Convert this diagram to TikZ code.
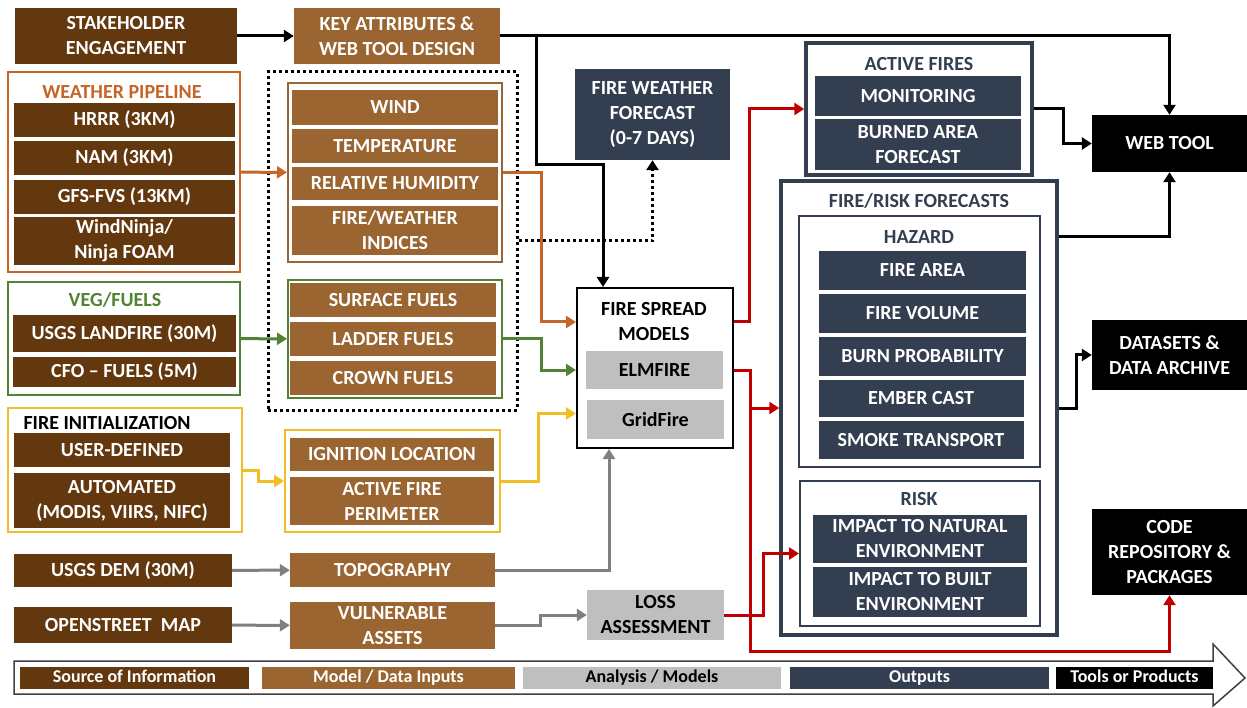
\documentclass[tikz,border=0pt]{standalone}
\usepackage{fontspec}
\setmainfont{Carlito}
\usetikzlibrary{arrows.meta}

\definecolor{srcbrown}{RGB}{99,56,14}
\definecolor{inbrown}{RGB}{154,101,48}
\definecolor{anagray}{RGB}{191,191,191}
\definecolor{outnavy}{RGB}{51,63,80}
\definecolor{wxorange}{RGB}{197,101,40}
\definecolor{veggreen}{RGB}{84,130,53}
\definecolor{ignyellow}{RGB}{242,190,40}
\definecolor{riskred}{RGB}{192,0,0}
\definecolor{topogray}{RGB}{128,128,128}
\definecolor{lgdline}{RGB}{64,64,64}

\tikzset{
  sz/.style 2 args={minimum width=#1,minimum height=#2},
  box/.style={inner sep=0pt,align=center,font=\fontsize{20}{25}\selectfont\bfseries},
  src/.style={box,fill=srcbrown,text=white},
  inp/.style={box,fill=inbrown,text=white},
  ana/.style={box,fill=anagray,text=black},
  outp/.style={box,fill=outnavy,text=white},
  tool/.style={box,fill=black,text=white},
  frame/.style={inner sep=0pt,draw,line width=2pt},
  lgd/.style={inner sep=0pt,minimum height=22,text height=13pt,text depth=4pt,
    font=\fontsize{18}{20}\selectfont\bfseries},
  conn/.style={line width=3pt,-{Triangle[length=10pt,width=12pt]}},
}

\begin{document}
\begin{tikzpicture}[x=1pt,y=-1pt]

      \fill[white] (0,0) rectangle (1247,708);
      \useasboundingbox (0,0) rectangle (1247,708);

      % group frames
      \node[frame,draw=wxorange,sz={232}{200}] (wp) at (124,172) {};
      \node[frame,draw=veggreen,sz={232}{113}] (vf) at (124,338.5) {};
      \node[frame,draw=ignyellow,sz={234}{124}] (fi) at (125,470) {};
      \node[frame,draw=black,line width=3pt,dash pattern=on 3pt off 3pt,sz={249}{338}] (db) at (392.5,241) {};
      \node[frame,draw=inbrown,sz={214}{179}] (win) at (395,172.5) {};
      \node[frame,draw=veggreen,sz={214}{118}] (fu) at (395,339) {};
      \node[frame,draw=ignyellow,sz={215}{102}] (ig) at (392.5,481) {};
      \node[frame,draw=black,sz={156}{160}] (fsm) at (655,368) {};
      \node[frame,draw=outnavy,line width=3.5pt,sz={226}{132}] (af) at (919,109) {};
      \node[frame,draw=outnavy,line width=3.5pt,sz={276}{454}] (frf) at (919,408) {};
      \node[frame,draw=outnavy,sz={241}{251}] (hz) at (919.5,341.5) {};
      \node[frame,draw=outnavy,sz={240}{145}] (rk) at (920,553.5) {};

      % titles
      \begin{scope}[every node/.style={box}]
        \node[text=wxorange] (wpt) at (122,92) {WEATHER PIPELINE};
        \node[text=veggreen] (vft) at (115,300) {VEG/FUELS};
        \node (fit) at (107,423) {FIRE INITIALIZATION};
        \node (fsmt) at (654,322) {FIRE SPREAD\\MODELS};
        \node[text=outnavy] (aft) at (919,64) {ACTIVE FIRES};
        \node[text=outnavy] (frft) at (919,201) {FIRE/RISK FORECASTS};
        \node[text=outnavy] (hzt) at (919,237) {HAZARD};
        \node[text=outnavy] (rkt) at (919,499) {RISK};
      \end{scope}

      % source of information
      \node[src,sz={222}{56}] (se) at (126,36) {STAKEHOLDER\\ENGAGEMENT};
      \node[src,sz={221}{34}] (hrrr) at (124.5,120) {HRRR (3KM)};
      \node[src,sz={221}{34}] (nam) at (124.5,158) {NAM (3KM)};
      \node[src,sz={221}{34}] (gfs) at (124.5,197) {GFS-FVS (13KM)};
      \node[src,sz={221}{48}] (wn) at (124.5,241) {WindNinja/\\Ninja FOAM};
      \node[src,sz={223}{37}] (lf) at (124.5,333.5) {USGS LANDFIRE (30M)};
      \node[src,sz={223}{30}] (cfo) at (124.5,372) {CFO -- FUELS (5M)};
      \node[src,sz={216}{34}] (ud) at (122,450) {USER-DEFINED};
      \node[src,sz={216}{55}] (au) at (122,500.5) {AUTOMATED\\(MODIS, VIIRS, NIFC)};
      \node[src,sz={218}{33}] (dem) at (123,570.5) {USGS DEM (30M)};
      \node[src,sz={218}{36}] (osm) at (123,625) {OPENSTREET~~MAP};

      % model / data inputs
      \node[inp,sz={206}{56}] (ka) at (397,36) {KEY ATTRIBUTES \&\\WEB TOOL DESIGN};
      \node[inp,sz={206}{35}] (wind) at (395,107.5) {WIND};
      \node[inp,sz={206}{34}] (temp) at (395,146) {TEMPERATURE};
      \node[inp,sz={206}{33}] (rh) at (395,183.5) {RELATIVE HUMIDITY};
      \node[inp,sz={206}{49}] (fwi) at (395,230.5) {FIRE/WEATHER\\INDICES};
      \node[inp,sz={206}{34}] (sf) at (393,300) {SURFACE FUELS};
      \node[inp,sz={206}{34}] (lad) at (393,339) {LADDER FUELS};
      \node[inp,sz={206}{34}] (cro) at (393,378) {CROWN FUELS};
      \node[inp,sz={204}{33}] (il) at (392,454.5) {IGNITION LOCATION};
      \node[inp,sz={204}{48}] (afp) at (392,501) {ACTIVE FIRE\\PERIMETER};
      \node[inp,sz={205}{34}] (topo) at (392.5,570) {TOPOGRAPHY};
      \node[inp,sz={205}{47}] (va) at (392.5,625.5) {VULNERABLE\\ASSETS};

      % analysis / models
      \node[ana,sz={137}{38}] (elm) at (654.5,370) {ELMFIRE};
      \node[ana,sz={137}{39}] (grid) at (655.5,419.5) {GridFire};
      \node[ana,sz={137}{50}] (loss) at (655.5,615) {LOSS\\ASSESSMENT};

      % outputs
      \node[outp,sz={155}{91}] (fwf) at (652.5,114.5) {FIRE WEATHER\\FORECAST\\(0-7 DAYS)};
      \node[outp,sz={206}{40}] (mon) at (918,96) {MONITORING};
      \node[outp,sz={206}{51}] (baf) at (918,144.5) {BURNED AREA\\FORECAST};
      \node[outp,sz={207}{39}] (fa) at (922.5,270.5) {FIRE AREA};
      \node[outp,sz={207}{39}] (fv) at (922.5,313.5) {FIRE VOLUME};
      \node[outp,sz={207}{39}] (bp) at (922.5,356.5) {BURN PROBABILITY};
      \node[outp,sz={205}{37}] (ec) at (921,398.5) {EMBER CAST};
      \node[outp,sz={205}{38}] (st) at (921,440) {SMOKE TRANSPORT};
      \node[outp,sz={214}{48}] (itn) at (920,539) {IMPACT TO NATURAL\\ENVIRONMENT};
      \node[outp,sz={214}{50}] (itb) at (920,592) {IMPACT TO BUILT\\ENVIRONMENT};

      % tools or products
      \node[tool,sz={155}{57}] (web) at (1169.5,143.5) {WEB TOOL};
      \node[tool,sz={155}{70}] (ds) at (1169.5,355) {DATASETS \&\\DATA ARCHIVE};
      \node[tool,sz={155}{86}] (cr) at (1169.5,552) {CODE\\REPOSITORY \&\\PACKAGES};

      % connectors
      \coordinate (kab) at (536,36);
      \draw[conn] (se) -- (ka);
      \draw[conn] (ka.east) -| (web.north);
      \draw[conn] (kab) -- ++(0,129) -| ([xshift=-52pt]fsm.north);
      \draw[conn,wxorange] (wp) -- (win);
      \draw[conn,wxorange] (win.east) -- ++(38,0) |- (fsm.west |- fsmt);
      \draw[conn,line width=3pt,dash pattern=on 3pt off 3pt] (db.east) -| (fwf.south);
      \draw[conn,veggreen] (vf) -- (fu);
      \draw[conn,veggreen] (fu.east) -- ++(38,0) |- (fsm.west |- elm);
      \draw[conn,ignyellow] (fi.east) -- ++(15,0) |- (ig.west);
      \draw[conn,ignyellow] (ig.east) -- ++(37,0) |- ([yshift=6pt]fsm.west |- grid);
      \draw[conn,topogray] (dem) -- (topo);
      \draw[conn,topogray] (topo.east) -| ([xshift=-46pt]fsm.south);
      \draw[conn,topogray] (osm) -- (va);
      \draw[conn,topogray] (va.east) -- ++(45,0) |- (loss.west);
      \draw[conn,riskred] (fsm.east |- fsmt) -- ++(15,0) |- (af.west);
      \draw[conn,riskred] (fsm.east |- elm) -- ++(16,0) |- (frf.west);
      \draw[conn,riskred] (fsm.east |- elm) -- ++(16,0) -- ++(0,281) -| (cr.south);
      \draw[conn,riskred] (loss.east) -- ++(39,0) |- (rk.west);
      \draw[conn] (af.east) -- ++(30,0) |- (web.west);
      \draw[conn] (frf.east |- hzt) -| (web.south);
      \draw[conn] (frf.east) -- ++(18,0) |- (ds.west);

      % legend
      \draw[lgdline,line width=1.5pt,fill=white] (14,661) -- (1213,661) -- (1213,644)
        -- (1245,678) -- (1213,706) -- (1213,694) -- (14,694) -- cycle;
      \node[lgd,fill=srcbrown,text=white,minimum width=229] (l1) at (134.5,678) {Source of Information};
      \node[lgd,fill=inbrown,text=white,minimum width=253] (l2) at (388.5,678) {Model / Data Inputs};
      \node[lgd,fill=anagray,text=black,minimum width=258] (l3) at (652,678) {Analysis / Models};
      \node[lgd,fill=outnavy,text=white,minimum width=259] (l4) at (919.5,678) {Outputs};
      \node[lgd,fill=black,text=white,minimum width=157] (l5) at (1134.5,678) {Tools or Products};

    \end{tikzpicture}
\end{document}
